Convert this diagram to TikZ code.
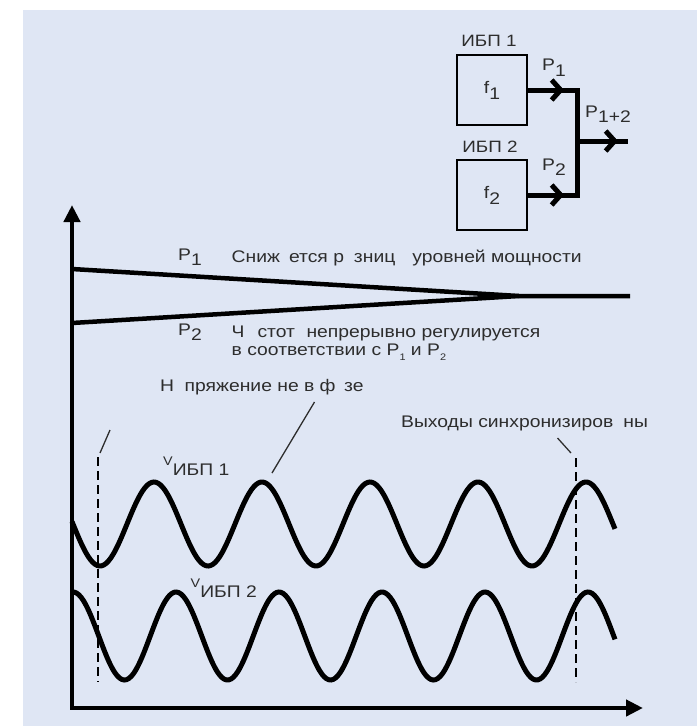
\documentclass[tikz,border=0pt]{standalone}
\usepackage{fontspec}
\setmainfont{Liberation Sans}[FakeStretch=1.15]
\usetikzlibrary{arrows.meta}
\definecolor{bgblue}{RGB}{223,230,244}
\definecolor{txt}{RGB}{45,45,45}
\newcommand\lsub[1]{\raisebox{-0.35em}{#1}}
\newcommand\tsub[1]{\raisebox{-0.3em}{\fontsize{9.5}{10}\selectfont #1}}
\newcommand\smallv{{\fontsize{12.5}{13}\selectfont V}}
\begin{document}
\begin{tikzpicture}[x=1pt,y=-1pt,
  lbl/.style={font=\fontsize{16.8}{18}\selectfont, text=txt, inner sep=0pt, anchor=base west},
  toplbl/.style={font=\fontsize{16.4}{18}\selectfont, text=txt, inner sep=0pt, anchor=base},
  ubox/.style={draw=black, line width=2.5pt, minimum width=70pt, minimum height=70pt, inner sep=0pt, font=\fontsize{16.8}{18}\selectfont, text=txt},
  pw/.style={line width=5pt, draw=black},
  barb/.style={-{Straight Barb[length=9pt,width=20pt]}},
  axis/.style={line width=4.3pt, line join=miter, {Triangle[length=17pt,width=16pt]}-{Triangle[length=17pt,width=16pt]}},
  plin/.style={line width=4.5pt, line join=miter},
  wave/.style={line width=5pt},
  sync/.style={line width=2.6pt, dash pattern=on 9pt off 5pt},
  leader/.style={line width=1.3pt, draw=txt}]
\useasboundingbox (0,0) rectangle (697,726);
\fill[bgblue] (23,10) rectangle (697,726);

% UPS block diagram
\node[ubox] (b1) at (492,90) {f\lsub{1}};
\node[ubox] (b2) at (492,195) {f\lsub{2}};
\node[toplbl] (n1) at (489,46) {ИБП 1};
\node[toplbl] (n2) at (490,152) {ИБП 2};
\node[lbl] (lp1) at (542,70.5) {P\lsub{1}};
\node[lbl] (lp2) at (542,170) {P\lsub{2}};
\node[lbl] (lp12) at (585,117) {P\lsub{1+2}};
\coordinate (a1) at (564,90);
\coordinate (a2) at (564,195);
\coordinate (j1) at (577,90);
\coordinate (j2) at (577,195);
\coordinate (jm) at (577,141);
\coordinate (a3) at (618,141);
\coordinate (oe) at (628,141);
\draw[pw, line join=miter] (b1.east) -- (j1) -- (j2) -- (b2.east);
\draw[pw] (jm) -- (oe);
\draw[pw, barb] (b1.east) -- (a1);
\draw[pw, barb] (b2.east) -- (a2);
\draw[pw, barb] (jm) -- (a3);

% axes
\coordinate (ytip) at (72,205);
\coordinate (O) at (72,708);
\coordinate (xtip) at (643,708);
\draw[axis] (ytip) -- (O) -- (xtip);

% power curves
\coordinate (p1s) at (72,269);
\coordinate (p2s) at (72,323);
\coordinate (pc) at (519,296);
\coordinate (pe) at (630,296);
\draw[plin] (p1s) -- (pc) -- (pe);
\draw[plin] (p2s) -- (pc);

\node[lbl] (tp1) at (178,260) {P\lsub{1}};
\node[lbl] (t1) at (231.5,262) {Сниж\hspace{9pt}ется р\hspace{10pt}зниц\hspace{17pt}уровней мощности};
\node[lbl] (tp2) at (178,335) {P\lsub{2}};
\node[lbl] (t2) at (231.5,337) {Ч\hspace{13pt}стот\hspace{11.5pt}непрерывно регулируется};
\node[lbl] (t3) at (231.5,355) {в соответствии с P\tsub{1} и P\tsub{2}};
\node[lbl] (t4) at (160,391) {Н\hspace{10.5pt}пряжение не в ф\hspace{8.5pt}зе};
\node[lbl] (t5) at (401,427) {Выходы синхронизиров\hspace{10pt}ны};

% voltages
\draw[wave] plot[domain=72:615, samples=240, smooth] (\x,{524-42*cos(3.33333*(\x-154))});
\draw[wave] plot[domain=72:615, samples=240, smooth] (\x,{636-44*cos(3.49515*(\x-176))});
\node[lbl] (v1) at (163,465) {\smallv\raisebox{-10pt}{ИБП 1}};
\node[lbl] (v2) at (190.5,587) {\smallv\raisebox{-10pt}{ИБП 2}};

% sync markers
\coordinate (d1t) at (98,457);
\coordinate (d1b) at (98,682);
\coordinate (d2t) at (576,458);
\coordinate (d2b) at (576,682);
\draw[sync] (d1t) -- (d1b);
\draw[sync] (d2t) -- (d2b);

% leaders
\coordinate (l1a) at (314.5,402);
\coordinate (l1b) at (272,473);
\coordinate (l2a) at (110,430);
\coordinate (l2b) at (100,453);
\coordinate (l3a) at (557.5,438);
\coordinate (l3b) at (571,453);
\draw[leader] (l1a) -- (l1b);
\draw[leader] (l2a) -- (l2b);
\draw[leader] (l3a) -- (l3b);
\end{tikzpicture}
\end{document}
